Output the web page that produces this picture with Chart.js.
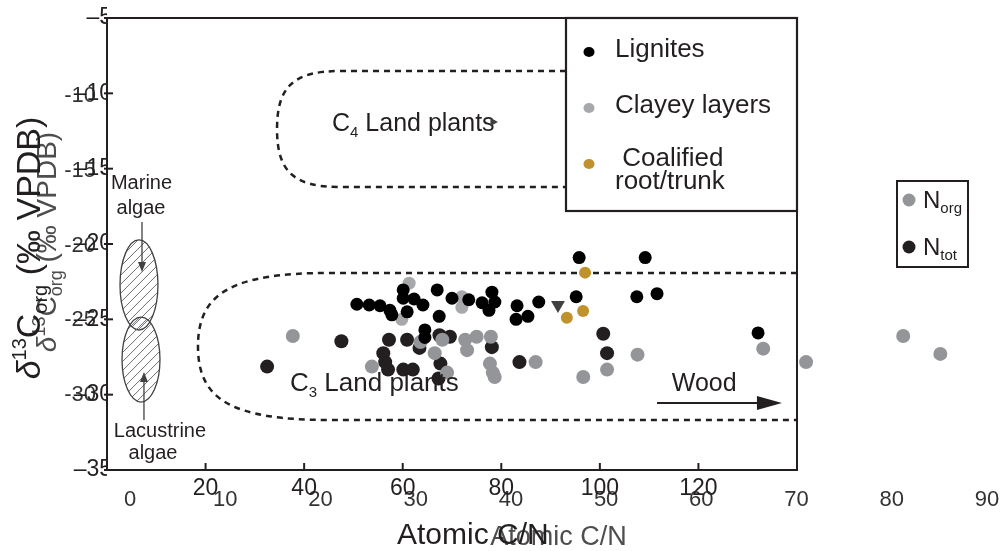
<!DOCTYPE html>
<html lang="en">
<head>
    <meta charset="UTF-8">
    <title>δ13Corg vs atomic C/N</title>
    <script src="https://cdn.jsdelivr.net/npm/chart.js"></script>
    <style>
        body { margin: 0; background: #fff; }
        #wrap { position: relative; width: 1004px; height: 551px; }
        #wrap canvas { position: absolute; left: 0; top: 0; }
    </style>
</head>
<body>
<div id="wrap">
    <canvas id="nChart" width="1004" height="551"></canvas>
    <canvas id="cnChart" width="1004" height="551"></canvas>
</div>

<script>
    const FONT = '"Liberation Sans", Arial, Helvetica, sans-serif';
    const INK = '#231f20';

    // --- outer figure: samples (x 0-140, y -5 to -35) ---
    const cnTicksX = [20, 40, 60, 80, 100, 120];
    const cnTicksY = [-5, -10, -15, -20, -25, -30, -35];
    const ligniteX = [95.8, 109.2, 50.7, 53.2, 55.4, 57.4, 57.8, 60.1, 60.1, 60.9, 62.3, 64.1, 67.0, 67.4, 70.0,
        73.4, 76.1, 78.1, 78.7, 77.5, 64.5, 64.5, 83.2, 87.6, 83.0, 85.4, 95.2, 107.5, 111.6, 132.1];
    const ligniteY = [-20.9, -20.9, -24.0, -24.05, -24.1, -24.4, -24.7, -23.05, -23.6, -24.5, -23.65, -24.05, -23.05, -24.8, -23.6,
        -23.7, -23.9, -23.2, -23.85, -24.4, -25.7, -26.2, -24.1, -23.85, -25.0, -24.8, -23.5, -23.5, -23.3, -25.9];
    const clayX = [61.3, 59.8, 72.0, 72.0];
    const clayY = [-22.6, -25.0, -23.5, -24.2];
    const rootX = [97.0, 96.6, 93.3];
    const rootY = [-21.9, -24.45, -24.9];
    const markX = [91.5, 78.3];
    const markY = [-24.05, -11.9];
    const markRot = [180, 90];
    const markSize = [8, 5];

    // --- inner figure: N_org / N_tot (x 0-90, y -10 to -30) ---
    const nTicksX = [0, 10, 20, 30, 40, 50, 60, 70, 80, 90];
    const nTicksY = [-10, -15, -20, -25, -30];
    const nOrgX = [17.1, 25.4, 30.5, 32.8, 32.0, 35.2, 35.4, 36.4, 37.9, 37.8, 38.1, 33.3, 38.3, 42.6, 53.3,
        50.1, 47.6, 66.5, 71.0, 81.2, 85.1];
    const nOrgY = [-26.05, -28.1, -26.45, -26.3, -27.2, -26.3, -27.0, -26.1, -26.1, -27.9, -28.5, -28.5, -28.8, -27.8, -27.3,
        -28.3, -28.8, -26.9, -27.8, -26.05, -27.25];
    const nTotX = [14.4, 22.2, 27.2, 29.1, 30.4, 26.6, 26.8, 27.1, 28.7, 29.7, 32.5, 33.6, 32.6, 38.0, 32.4, 40.9, 49.7, 50.1];
    const nTotY = [-28.1, -26.4, -26.3, -26.3, -26.85, -27.2, -27.8, -28.3, -28.3, -28.3, -26.0, -26.1, -27.9, -26.8, -28.9, -27.8, -25.9, -27.2];

    // annotation shapes, in outer-figure data units
    const c4Env = { left: 34.5, bend: 47.3, top: -8.52, bottom: -16.22, endTop: 140, endBottom: 140 };
    const c3Env = { left: 18.46, bend: 45.25, top: -21.92, bottom: -31.68, endTop: 140, endBottom: 140 };
    const algae = [
        { lines: ['Marine', 'algae'], tx: [7.0, 6.9], ty: [-15.88, -17.54], cx: 6.49, cy: -22.72, rx: 3.85, ry: 2.99, ax: 7.1, from: -18.54, to: -21.86 },
        { lines: ['Lacustrine', 'algae'], tx: [10.75, 9.33], ty: [-32.35, -33.8], cx: 6.9, cy: -27.67, rx: 3.85, ry: 2.82, ax: 7.5, from: -31.68, to: -28.5 }
    ];

    function pts(xs, ys) { return xs.map((x, i) => ({ x: x, y: ys[i] })); }

    // force the axis box size and drop the label-overflow padding
    function fixBox(prop, size) {
        return s => {
            s[prop] = size;
            s.paddingTop = s.paddingBottom = s.paddingLeft = s.paddingRight = 0;
        };
    }

    function rich(ctx, parts, x, y, align) {
        const f = p => (p[3] || '') + ' ' + p[1] + 'px ' + FONT;
        let w = 0;
        parts.forEach(p => { ctx.font = f(p); w += ctx.measureText(p[0]).width; });
        let cx = align === 'center' ? x - w / 2 : x;
        ctx.textAlign = 'left';
        ctx.textBaseline = 'alphabetic';
        parts.forEach(p => {
            ctx.font = f(p);
            ctx.fillText(p[0], cx, y + (p[2] || 0));
            cx += ctx.measureText(p[0]).width;
        });
    }

    function arrow(ctx, x1, y1, x2, y2, head, half, lw) {
        const a = Math.atan2(y2 - y1, x2 - x1), c = Math.cos(a), s = Math.sin(a);
        ctx.lineWidth = lw;
        ctx.beginPath();
        ctx.moveTo(x1, y1);
        ctx.lineTo(x2 - c * head * 0.8, y2 - s * head * 0.8);
        ctx.stroke();
        ctx.beginPath();
        ctx.moveTo(x2, y2);
        ctx.lineTo(x2 - c * head + s * half, y2 - s * head - c * half);
        ctx.lineTo(x2 - c * head - s * half, y2 - s * head + c * half);
        ctx.closePath();
        ctx.fill();
    }

    function hatched(ctx, cx, cy, rx, ry) {
        ctx.save();
        ctx.beginPath();
        ctx.ellipse(cx, cy, rx, ry, 0, 0, Math.PI * 2);
        ctx.clip();
        ctx.strokeStyle = '#6d6e71';
        ctx.lineWidth = 1;
        for (let d = -ry - rx; d < ry + rx; d += 9) {
            ctx.beginPath();
            ctx.moveTo(cx - rx, cy + d + rx);
            ctx.lineTo(cx + rx, cy + d - rx);
            ctx.stroke();
        }
        ctx.restore();
        ctx.beginPath();
        ctx.ellipse(cx, cy, rx, ry, 0, 0, Math.PI * 2);
        ctx.strokeStyle = '#414042';
        ctx.lineWidth = 1.3;
        ctx.stroke();
    }

    const cnDecor = {
        id: 'cnDecor',
        beforeDatasetsDraw(chart) {
            const { ctx, scales: { x, y } } = chart;
            const X = v => x.getPixelForValue(v), Y = v => y.getPixelForValue(v);
            ctx.save();
            // C4 / C3 envelopes
            ctx.strokeStyle = INK;
            ctx.lineWidth = 2.5;
            ctx.setLineDash([6, 5]);
            [c4Env, c3Env].forEach(e => {
                const L = X(e.left), B = X(e.bend), T = Y(e.top), Bo = Y(e.bottom);
                const M = (T + Bo) / 2, h = (Bo - T) / 2, c1 = B - 0.75 * (B - L);
                ctx.beginPath();
                ctx.moveTo(X(e.endTop), T);
                ctx.lineTo(B, T);
                ctx.bezierCurveTo(c1, T, L, T + 0.28 * h, L, M);
                ctx.bezierCurveTo(L, Bo - 0.28 * h, c1, Bo, B, Bo);
                ctx.lineTo(X(e.endBottom), Bo);
                ctx.stroke();
            });
            ctx.setLineDash([]);

            ctx.fillStyle = INK;
            rich(ctx, [['C', 25], ['4', 15, 6], [' Land plants', 25]], X(45.65), Y(-11.9) + 9);
            rich(ctx, [['C', 26], ['3', 15, 6], [' Land plants', 26]], X(37.13), Y(-29.16) + 9);
            rich(ctx, [['Wood', 25]], X(114.6), Y(-29.16) + 9);
            ctx.strokeStyle = INK;
            arrow(ctx, X(111.6), Y(-30.55), X(136.95), Y(-30.55), 25, 7, 2);

            // algae fields
            algae.forEach(a => {
                hatched(ctx, X(a.cx), Y(a.cy), X(a.cx + a.rx) - X(a.cx), Y(a.cy - a.ry) - Y(a.cy));
                ctx.fillStyle = '#414042';
                ctx.strokeStyle = '#414042';
                arrow(ctx, X(a.ax), Y(a.from), X(a.ax), Y(a.to), 10, 4, 1.3);
                ctx.fillStyle = INK;
                a.lines.forEach((t, i) => rich(ctx, [[t, 20]], X(a.tx[i]), Y(a.ty[i]) + 7, 'center'));
            });
            ctx.restore();
        },
        afterDatasetsDraw(chart) {
            const { ctx, chartArea: ca, scales: { x, y } } = chart;
            ctx.save();
            ctx.strokeStyle = INK;
            ctx.lineWidth = 2;
            ctx.strokeRect(ca.left, ca.top, ca.width, ca.height);
            x.ticks.forEach(t => {
                const px = x.getPixelForValue(t.value);
                ctx.beginPath(); ctx.moveTo(px, ca.bottom); ctx.lineTo(px, ca.bottom - 7); ctx.stroke();
            });
            y.ticks.forEach(t => {
                const py = y.getPixelForValue(t.value);
                ctx.beginPath(); ctx.moveTo(ca.left - 3, py); ctx.lineTo(ca.left + 6, py); ctx.stroke();
            });

            // legend
            const bx = ca.right - 231, by = ca.top;
            ctx.fillStyle = '#fff';
            ctx.fillRect(bx, by, 231, 193);
            ctx.lineWidth = 2.2;
            ctx.strokeRect(bx, by, 231, 193);
            const rows = [34, 90, 146];
            chart.data.datasets.slice(0, 3).forEach((ds, i) => {
                ctx.fillStyle = ds.backgroundColor;
                ctx.beginPath();
                ctx.ellipse(bx + 23, by + rows[i], 5.5, 5, 0, 0, Math.PI * 2);
                ctx.fill();
                ctx.fillStyle = INK;
                const lines = ds.label.split('\n');
                if (lines.length === 1) {
                    rich(ctx, [[lines[0], 26]], bx + 49, by + rows[i] - 4 + 9);
                } else {
                    rich(ctx, [[' ' + lines[0], 26]], bx + 49, by + rows[i] - 7 + 9);
                    rich(ctx, [[lines[1], 26]], bx + 49, by + rows[i] + 16 + 9);
                }
            });

            // axis titles
            ctx.fillStyle = INK;
            rich(ctx, [['Atomic C/N', 30]], ca.left + 290, ca.bottom + 74);
            ctx.translate(ca.left - 67, (ca.top + ca.bottom) / 2 + 4);
            ctx.rotate(-Math.PI / 2);
            rich(ctx, [['δ', 34, 0, 'italic'], ['13', 20, -14], ['C', 34], ['org', 20, 7], [' (‰ VPDB)', 34]], 0, 0, 'center');
            ctx.restore();
        }
    };

    const nDecor = {
        id: 'nDecor',
        afterDraw(chart) {
            const { ctx, chartArea: ca } = chart;
            ctx.save();
            ctx.fillStyle = '#4d4d4f';
            rich(ctx, [['Atomic C/N', 27]], (ca.left + ca.right) / 2, 545, 'center');
            ctx.save();
            ctx.translate(56, 242);
            ctx.rotate(-Math.PI / 2);
            rich(ctx, [['δ', 28, 0, 'italic'], ['13', 18, -11], ['C', 28], ['org', 18, 6], [' (‰ VPDB)', 28]], 0, 0, 'center');
            ctx.restore();

            // legend
            ctx.strokeStyle = INK;
            ctx.lineWidth = 2;
            ctx.strokeRect(897, 181, 71, 86);
            chart.data.datasets.forEach((ds, i) => {
                const cy = 200 + i * 47;
                ctx.fillStyle = ds.backgroundColor;
                ctx.beginPath();
                ctx.arc(909, cy, 6.5, 0, Math.PI * 2);
                ctx.fill();
                ctx.fillStyle = INK;
                rich(ctx, [['N', 24], [ds.label, 15, 5]], 923, cy + 8);
            });
            ctx.restore();
        }
    };

    // inner figure (drawn underneath)
    new Chart(document.getElementById('nChart'), {
        type: 'scatter',
        data: {
            datasets: [
                { label: 'org', data: pts(nOrgX, nOrgY), backgroundColor: '#939598', pointRadius: 7 },
                { label: 'tot', data: pts(nTotX, nTotY), backgroundColor: '#231f20', pointRadius: 7 }
            ]
        },
        options: {
            responsive: false,
            animation: false,
            layout: { padding: { top: 21.25, right: 17, bottom: 0, left: 0 } },
            elements: { point: { borderWidth: 0 } },
            plugins: { legend: { display: false }, tooltip: { enabled: false } },
            scales: {
                x: {
                    type: 'linear', min: 0, max: 90,
                    grid: { display: false, drawTicks: false }, border: { display: false },
                    afterBuildTicks: s => { s.ticks = nTicksX.map(v => ({ value: v })); },
                    afterFit: fixBox('height', 81.25),
                    ticks: { color: '#333', font: { family: FONT, size: 22 }, padding: 17, maxRotation: 0, autoSkip: false }
                },
                y: {
                    min: -35, max: -5,
                    grid: { display: false, drawTicks: false }, border: { display: false },
                    afterBuildTicks: s => { s.ticks = nTicksY.map(v => ({ value: v })); },
                    afterFit: fixBox('width', 130),
                    ticks: { color: '#333', font: { family: FONT, size: 22 }, padding: 34, autoSkip: false }
                }
            }
        },
        plugins: [nDecor]
    });

    // outer figure
    new Chart(document.getElementById('cnChart'), {
        type: 'scatter',
        data: {
            datasets: [
                { label: 'Lignites', data: pts(ligniteX, ligniteY), backgroundColor: '#000000', pointRadius: 6.5 },
                { label: 'Clayey layers', data: pts(clayX, clayY), backgroundColor: '#a6a8ab', pointRadius: 6.5 },
                { label: 'Coalified\nroot/trunk', data: pts(rootX, rootY), backgroundColor: '#c0922b', pointRadius: 6 },
                { label: 'marker', data: pts(markX, markY), backgroundColor: '#404041', pointStyle: 'triangle', pointRotation: markRot, pointRadius: markSize }
            ]
        },
        options: {
            responsive: false,
            animation: false,
            layout: { padding: { top: 18, right: 207, bottom: 0, left: 0 } },
            elements: { point: { borderWidth: 0 } },
            plugins: { legend: { display: false }, tooltip: { enabled: false } },
            scales: {
                x: {
                    type: 'linear', min: 0, max: 140,
                    grid: { display: false, drawTicks: false }, border: { display: false },
                    afterBuildTicks: s => { s.ticks = cnTicksX.map(v => ({ value: v })); },
                    afterFit: fixBox('height', 81),
                    ticks: { color: INK, font: { family: FONT, size: 23 }, padding: 5, maxRotation: 0, autoSkip: false }
                },
                y: {
                    min: -35, max: -5,
                    grid: { display: false, drawTicks: false }, border: { display: false },
                    afterBuildTicks: s => { s.ticks = cnTicksY.map(v => ({ value: v })); },
                    afterFit: fixBox('width', 107),
                    ticks: { color: INK, font: { family: FONT, size: 23 }, padding: -5, autoSkip: false,
                        callback: v => '\u2013' + Math.abs(v) }
                }
            }
        },
        plugins: [cnDecor]
    });
</script>
</body>
</html>
